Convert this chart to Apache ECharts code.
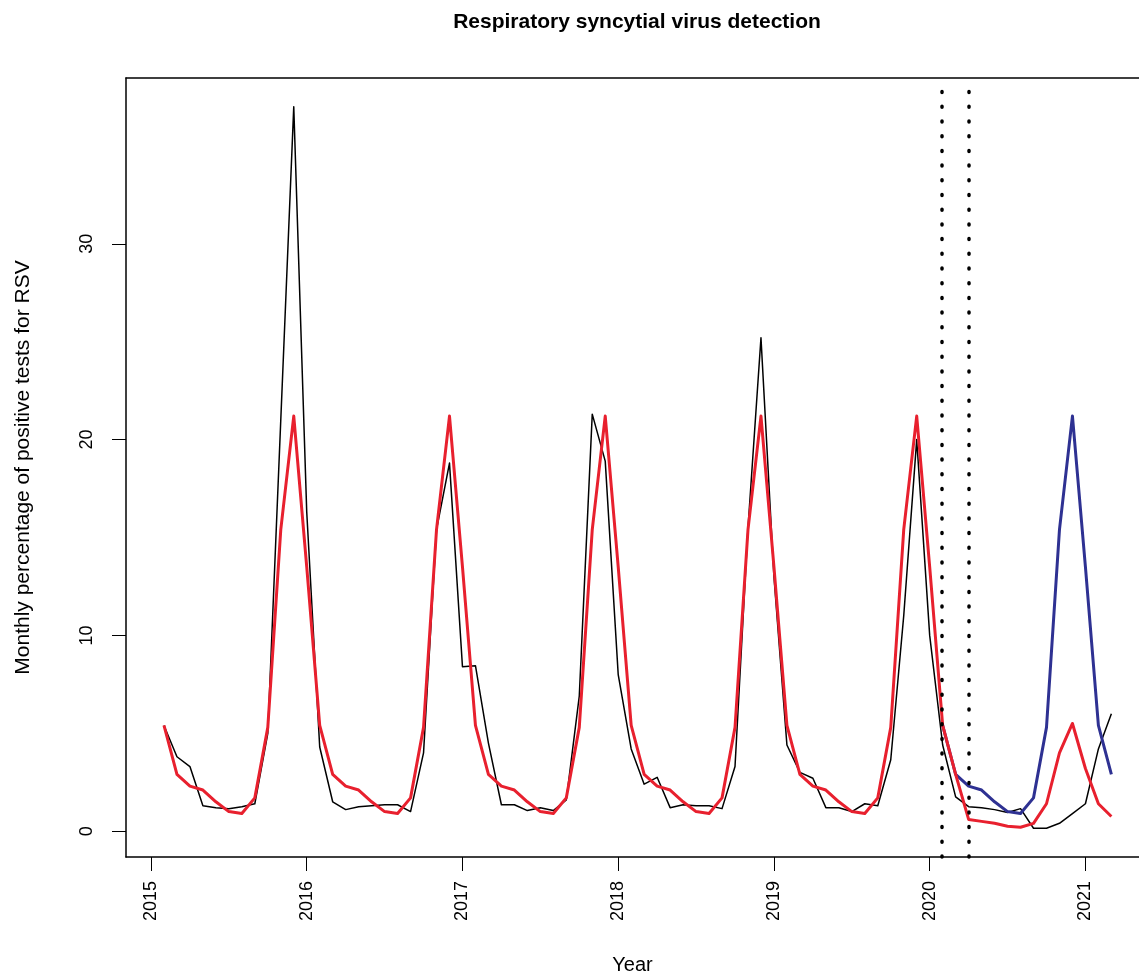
<!DOCTYPE html>
<html lang="en">

<head>
    <meta charset="UTF-8">
    <title>Respiratory syncytial virus detection</title>
    <script src="https://cdn.jsdelivr.net/npm/echarts@6/dist/echarts.min.js"></script>
    <style>
        body { margin: 0; background: #fff; overflow: hidden; }
    </style>
</head>

<body>
    <div id="main" style="width: 1139px; height: 980px;"></div>
    <script>
        // monthly series, first point is 2015 + 1/12
        const startYear = 2015
        const firstMonth = 1

        // observed detection (black)
        const observed = [
            5.4, 3.8, 3.3, 1.3, 1.2, 1.15, 1.25, 1.4, 5.0, 21.0, 37.0, 16.3,
            4.3, 1.5, 1.1, 1.25, 1.3, 1.35, 1.35, 1.0, 4.0, 15.4, 18.8, 8.4,
            8.45, 4.5, 1.35, 1.35, 1.05, 1.2, 1.05, 1.6, 6.9, 21.3, 18.9, 8.0,
            4.2, 2.4, 2.75, 1.2, 1.35, 1.3, 1.3, 1.15, 3.3, 15.5, 25.2, 13.0,
            4.4, 3.0, 2.7, 1.2, 1.2, 1.0, 1.4, 1.3, 3.65, 11.0, 20.0, 10.0,
            4.4, 1.75, 1.25, 1.2, 1.1, 0.95, 1.15, 0.15, 0.15, 0.4, 0.9, 1.4,
            4.2, 6.0
        ]

        // fitted / intervention model (red)
        const fitted = [
            5.4, 2.9, 2.3, 2.1, 1.5, 1.0, 0.9, 1.7, 5.3, 15.4, 21.2, 13.5,
            5.4, 2.9, 2.3, 2.1, 1.5, 1.0, 0.9, 1.7, 5.3, 15.4, 21.2, 13.5,
            5.4, 2.9, 2.3, 2.1, 1.5, 1.0, 0.9, 1.7, 5.3, 15.4, 21.2, 13.5,
            5.4, 2.9, 2.3, 2.1, 1.5, 1.0, 0.9, 1.7, 5.3, 15.4, 21.2, 13.5,
            5.4, 2.9, 2.3, 2.1, 1.5, 1.0, 0.9, 1.7, 5.3, 15.4, 21.2, 13.5,
            5.4, 2.9, 0.6, 0.5, 0.4, 0.25, 0.2, 0.4, 1.4, 4.0, 5.5, 3.2,
            1.4, 0.75
        ]

        // counterfactual without intervention (blue), starts at month index 61
        const blueStart = 61
        const counterfactual = [
            5.4, 2.9, 2.3, 2.1, 1.5, 1.0, 0.9, 1.7, 5.3, 15.4, 21.2, 13.5,
            5.4, 2.9
        ]

        const yearTicks = [2015, 2016, 2017, 2018, 2019, 2020, 2021]
        const valueTicks = [0, 10, 20, 30]
        const breakLines = [2020 + 1 / 12, 2020 + 3 / 12]

        const timeOf = (k) => startYear + k / 12
        const pairs = (values, first) => values.map((v, i) => [timeOf(first + i), v])

        const font = '"Liberation Sans", Helvetica, Arial, sans-serif'

        // the plot box runs past the right edge, so x max is cut at the image edge
        const xMin = 2014.8395
        const xMax = 2021.344

        const element = document.querySelector('#main')
        const chart = echarts.init(element)

        const tickStyle = { color: '#000', width: 1 }
        const boxLine = { color: '#000', width: 1.5 }

        const option = {
            animation: false,
            backgroundColor: '#fff',
            title: {
                text: 'Respiratory syncytial virus detection',
                left: 632,
                top: 7,
                textAlign: 'center',
                textStyle: {
                    fontFamily: font,
                    fontSize: 21,
                    fontWeight: 'bold',
                    color: '#000'
                }
            },
            grid: {
                left: 126,
                top: 78,
                right: 0,
                bottom: 120
            },
            xAxis: [
                {
                    type: 'value',
                    min: xMin,
                    max: xMax,
                    name: 'Year',
                    nameLocation: 'middle',
                    nameGap: 98,
                    nameTextStyle: { fontFamily: font, fontSize: 20, color: '#000' },
                    axisLine: { show: true, onZero: false, lineStyle: boxLine },
                    splitLine: { show: false },
                    axisTick: {
                        show: true,
                        length: 14,
                        customValues: yearTicks,
                        lineStyle: tickStyle
                    },
                    axisLabel: {
                        customValues: yearTicks,
                        rotate: 90,
                        margin: 24,
                        fontFamily: font,
                        fontSize: 18,
                        color: '#000',
                        formatter: (v) => String(v)
                    }
                },
                {
                    // top edge of the box
                    type: 'value',
                    position: 'top',
                    min: xMin,
                    max: xMax,
                    axisLine: { show: true, onZero: false, lineStyle: boxLine },
                    axisTick: { show: false },
                    axisLabel: { show: false },
                    splitLine: { show: false }
                }
            ],
            yAxis: {
                type: 'value',
                min: -1.32,
                max: 38.47,
                name: 'Monthly percentage of positive tests for RSV',
                nameLocation: 'middle',
                nameGap: 92,
                nameTextStyle: { fontFamily: font, fontSize: 21, color: '#000' },
                axisLine: { show: true, onZero: false, lineStyle: boxLine },
                splitLine: { show: false },
                axisTick: {
                    show: true,
                    length: 14,
                    customValues: valueTicks,
                    lineStyle: tickStyle
                },
                axisLabel: {
                    customValues: valueTicks,
                    rotate: 90,
                    margin: 30,
                    fontFamily: font,
                    fontSize: 18,
                    color: '#000',
                    formatter: (v) => String(v)
                }
            },
            series: [
                {
                    name: 'Observed',
                    type: 'line',
                    showSymbol: false,
                    data: pairs(observed, firstMonth),
                    lineStyle: { color: '#000', width: 1.5, join: 'round' },
                    markLine: {
                        silent: true,
                        symbol: 'none',
                        label: { show: false },
                        lineStyle: {
                            color: '#000',
                            width: 3.5,
                            type: [1, 13.7],
                            cap: 'round'
                        },
                        data: breakLines.map((x) => ({ xAxis: x }))
                    }
                },
                {
                    name: 'Counterfactual',
                    type: 'line',
                    showSymbol: false,
                    data: pairs(counterfactual, blueStart),
                    lineStyle: { color: '#2E3192', width: 3, join: 'round' }
                },
                {
                    name: 'Fitted',
                    type: 'line',
                    showSymbol: false,
                    data: pairs(fitted, firstMonth),
                    lineStyle: { color: '#E8202E', width: 3, join: 'round' }
                }
            ]
        }

        chart.setOption(option)
    </script>
</body>

</html>
